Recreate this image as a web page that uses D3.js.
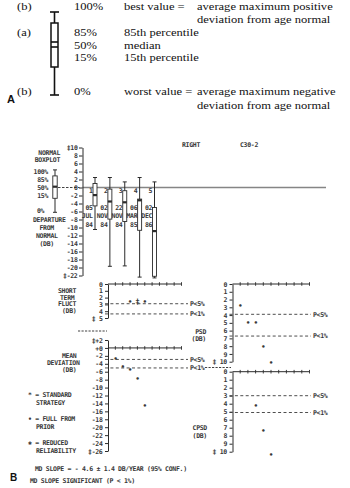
<!DOCTYPE html>
<html><head><meta charset="utf-8">
<script src="https://cdn.jsdelivr.net/npm/d3@7"></script>
<style>
html,body{margin:0;padding:0;background:#fff;}
svg{display:block;}
.m{font-family:"DejaVu Sans Mono","Liberation Mono",monospace;font-size:6.5px;font-weight:bold;letter-spacing:-0.3px;fill:#383838;}
.s{font-family:"Liberation Serif","DejaVu Serif",serif;font-size:11.2px;fill:#111;}
.big{font-family:"Liberation Sans","DejaVu Sans",sans-serif;font-size:11px;font-weight:bold;fill:#111;}
</style></head><body>
<svg id="c" width="350" height="488"></svg>
<script>
// ---------- DATA ----------
// Panel A (legend schematic)
const legendPct = [100, 85, 50, 15, 0];
const legendPctLabels = ["100%", "85%", "50%", "15%", "0%"];
const legendTags = ["(b)", "(a)", "", "", "(b)"];
const legendDesc = ["best value =", "85th percentile", "median", "15th percentile", "worst value ="];
const legendNoteTop = ["average maximum positive", "deviation from age normal"];
const legendNoteBottom = ["average maximum negative", "deviation from age normal"];

// Panel B: boxplots of departure from normal (dB)
const tests = ["1", "2", "3", "4", "5"];
const testDay = ["05", "02", "22", "06", "02"];
const testMonth = ["JUL", "NOV", "NOV", "MAR", "DEC"];
const testYear = ["84", "84", "84", "85", "86"];
const boxMax = [2.5, 2.5, 1.4, 2.5, 1.4];
const boxQ85 = [1.0, -0.4, -0.8, -2.9, -5.0];
const boxMed = [-1.9, -3.5, -3.7, -3.2, -10.9];
const boxQ15 = [-4.6, -7.9, -8.5, -10.7, -22.2];
const boxMin = [-10.5, -19.7, -19.6, -22.4, -22.6];
const normalBox = { max: 4.4, q85: 2.9, med: 0.2, q15: -2.7, min: -6.2 };
const normalLabels = ["100%", "85%", "50%", "15%"];
const devTicks = [10, 8, 6, 4, 2, 0, -2, -4, -6, -8, -10, -12, -14, -16, -18, -20, -22];

// Trend panels (value per test; null = not measured)
const stfValues = [null, null, 2.5, 2.5, 2.6];
const stfSymbols = ["", "", "•", "‡", "•"];
const stfLimits = [2.9, 4.4];
const stfTicks = [0, 1, 2, 3, 4, 5];
const mdValues = [-2.6, -4.6, -5.35, -7.7, -14.45];
const mdSymbols = ["•", "•", "•", "•", "•"];
const mdLimits = [-2.9, -5.05];
const mdTicks = [2, 0, -2, -4, -6, -8, -10, -12, -14, -16, -18, -20, -22, -24, -26];
const psdValues = [2.8, 4.9, 4.9, 8.1, 10.1];
const psdSymbols = ["•", "•", "•", "•", "•"];
const psdLimits = [3.9, 6.7];
const cpsdValues = [null, null, 4.2, 7.4, 10.3];
const cpsdSymbols = ["", "", "•", "•", "•"];
const cpsdLimits = [3.0, 5.1];
const tenTicks = [0, 1, 2, 3, 4, 5, 6, 7, 8, 9, 10];
const limitLabels = ["P<5%", "P<1%"];

// ---------- DRAW ----------
const svg = d3.select("#c");
const ink = "#2b2b2b";

function mono(g, x, y, s, anchor) {
  return g.append("text").attr("class", "m").attr("x", x).attr("y", y)
    .attr("dy", "0.36em").attr("text-anchor", anchor || "start").text(s);
}
function ln(g, x1, y1, x2, y2, st) {
  const l = g.append("line").attr("x1", x1).attr("y1", y1).attr("x2", x2).attr("y2", y2);
  Object.entries(st).forEach(([k, v]) => l.attr(k, v));
  return l;
}
// serif text, widened a little to the reference's Palatino-like width
function serif(g, x, y, s) {
  const t = g.append("text").attr("class", "s").attr("x", x).attr("y", y).text(s);
  const w = t.node().getComputedTextLength();
  t.attr("textLength", w * 1.12).attr("lengthAdjust", "spacingAndGlyphs");
  return t;
}

// ===== Panel A =====
const gA = svg.append("g");
const yA = d3.scaleLinear().domain([0, 15, 50, 85, 100]).range([95, 67, 45, 23, 12]);
const cxA = 54.5;
const stA = { stroke: "#111", "stroke-width": 1.6, fill: "none" };
ln(gA, cxA, yA(100), cxA, yA(85), stA);
ln(gA, cxA, yA(15), cxA, yA(0), stA);
ln(gA, cxA - 4.5, yA(100), cxA + 4.5, yA(100), stA);
ln(gA, cxA - 4.5, yA(0), cxA + 4.5, yA(0), stA);
gA.append("rect").attr("x", cxA - 3.5).attr("width", 7)
  .attr("y", yA(85)).attr("height", yA(15) - yA(85))
  .attr("fill", "none").attr("stroke", "#111").attr("stroke-width", 1.5);
ln(gA, cxA - 3.5, yA(50) - 3, cxA + 3.5, yA(50) - 3, stA);
ln(gA, cxA - 3.5, yA(50) + 2, cxA + 3.5, yA(50) + 2, stA);

const rowY = [9.5, 36, 48.5, 61, 95];
legendPct.forEach((p, i) => {
  if (legendTags[i]) serif(gA, 17, rowY[i], legendTags[i]);
  serif(gA, 74, rowY[i], legendPctLabels[i]);
  serif(gA, 124, rowY[i], legendDesc[i]);
});
legendNoteTop.forEach((s, j) => serif(gA, 197, rowY[0] + j * 13, s));
legendNoteBottom.forEach((s, j) => serif(gA, 197, rowY[4] + j * 14, s));
gA.append("text").attr("class", "big").attr("x", 7).attr("y", 103).text("A");

// ===== Panel B: boxplots =====
const gB = svg.append("g");
const devY = d3.scaleLinear().domain([10, -22]).range([147.5, 275.5]);
const devAxisX = 82.5;
const boxX = d3.scalePoint().domain(tests).range([95, 154.5]);

gB.append("line").attr("x1", devAxisX).attr("x2", 326).attr("y1", devY(0)).attr("y2", devY(0))
  .attr("stroke", "#858585").attr("stroke-width", 1.4);

const axDev = gB.append("g").attr("transform", `translate(${devAxisX},0)`)
  .call(d3.axisLeft(devY).tickValues(devTicks).tickSize(3.5).tickSizeOuter(0).tickPadding(1.5)
    .tickFormat(d => d === 10 ? "‡10" : d === -22 ? "‡-22" : String(d)));
axDev.attr("font-family", null).attr("font-size", null);
axDev.selectAll("text").attr("class", "m");
axDev.selectAll("path,line").attr("stroke", ink);

const boxes = tests.map((t, i) => ({ t, max: boxMax[i], q85: boxQ85[i], med: boxMed[i], q15: boxQ15[i], min: boxMin[i] }));
function drawBox(g, cx, b, hw) {
  ln(g, cx, devY(b.max), cx, devY(b.min), { stroke: ink, "stroke-width": 1 });
  ln(g, cx - 2, devY(b.max), cx + 2, devY(b.max), { stroke: ink, "stroke-width": 1 });
  ln(g, cx - 2, devY(b.min), cx + 2, devY(b.min), { stroke: ink, "stroke-width": 1 });
  g.append("rect").attr("x", cx - hw).attr("width", hw * 2).attr("y", devY(b.q85))
    .attr("height", devY(b.q15) - devY(b.q85)).attr("fill", "#fff").attr("stroke", ink).attr("stroke-width", 0.9);
  g.append("rect").attr("x", cx - hw).attr("width", hw * 2).attr("y", devY(b.med) - 1.1)
    .attr("height", 2.2).attr("fill", ink);
}
boxes.forEach(b => {
  const g = gB.append("g");
  const cx = boxX(b.t);
  drawBox(g, cx, b, 2);
  mono(g, cx - 2.3, 191, b.t, "end");
});
tests.forEach((t, i) => {
  const x = boxX(t) - 2.3;
  mono(gB, x, 207.7, testDay[i], "end");
  mono(gB, x, 216, testMonth[i], "end");
  mono(gB, x, 224.3, testYear[i], "end");
});

// normal boxplot
const nx = 55;
drawBox(gB, nx, normalBox, 2.2);
gB.append("line").attr("x1", nx + 3).attr("x2", devAxisX - 3).attr("y1", devY(0)).attr("y2", devY(0))
  .attr("stroke", ink).attr("stroke-width", 0.9).attr("stroke-dasharray", "2.5,1.5");
mono(gB, 60, 152.7, "NORMAL", "end");
mono(gB, 60, 159.3, "BOXPLOT", "end");
normalLabels.forEach((s, i) => mono(gB, 48, 171.3 + i * 8, s, "end"));
mono(gB, 37, devY(normalBox.min) - 1.5, "0%");
mono(gB, 33, 219.3, "DEPARTURE");
mono(gB, 39.5, 227.5, "FROM");
mono(gB, 36, 235.7, "NORMAL");
mono(gB, 39.5, 243.5, "(DB)");
mono(gB, 182, 145, "RIGHT");
mono(gB, 240, 145, "C30-2");

// ===== Trend panels =====
function trend(opts) {
  const { xs, ys, ticks, fmt, values, symbols, limits, pLabelX, dashEnd } = opts;
  const g = svg.append("g");
  const x0 = xs(0);
  const ty = ys(0);
  ln(g, x0, ty, xs(10), ty, { stroke: ink, "stroke-width": 1 });
  xs.ticks(10).filter(k => k > 0).forEach(k => ln(g, xs(k), ty - 1.8, xs(k), ty + 1.8, { stroke: ink, "stroke-width": 0.9 }));
  const ax = g.append("g").attr("transform", `translate(${x0},0)`)
    .call(d3.axisLeft(ys).tickValues(ticks).tickSize(3).tickSizeOuter(0).tickPadding(2.5).tickFormat(fmt));
  ax.attr("font-family", null).attr("font-size", null);
  ax.selectAll("text").attr("class", "m");
  ax.selectAll("path,line").attr("stroke", ink);
  limits.forEach((v, i) => {
    g.append("line").attr("x1", x0 - 3).attr("x2", dashEnd).attr("y1", ys(v)).attr("y2", ys(v))
      .attr("stroke", "#3a3a3a").attr("stroke-width", 0.9).attr("stroke-dasharray", "3,2.4");
    mono(g, pLabelX, ys(v), limitLabels[i]);
  });
  values.forEach((v, i) => {
    if (v === null) return;
    g.append("text").attr("class", "m").attr("x", xs(i + 1)).attr("y", ys(v)).attr("dy", "0.36em")
      .attr("text-anchor", "middle").style("font-size", symbols[i] === "•" ? "7px" : "7.5px").text(symbols[i]);
  });
  return g;
}
const xsL = d3.scaleLinear().domain([0, 10]).range([108, 181.5]);
const xsR = d3.scaleLinear().domain([0, 10]).range([232.5, 309.5]);

const stfY = d3.scaleLinear().domain([0, 5]).range([284, 318]);
const mdY = d3.scaleLinear().domain([2, -26]).range([340, 451]);
const psdY = d3.scaleLinear().domain([0, 10]).range([284, 361.7]);
const cpsdY = d3.scaleLinear().domain([0, 10]).range([371.7, 451.7]);

trend({ xs: xsL, ys: stfY, ticks: stfTicks, fmt: d => d === 5 ? "‡ 5" : String(d),
  values: stfValues, symbols: stfSymbols, limits: stfLimits, pLabelX: 190, dashEnd: 188 });
trend({ xs: xsL, ys: mdY, ticks: mdTicks,
  fmt: d => d === 2 ? "‡+2" : d === 0 ? "+0" : d === -26 ? "‡-26" : String(d),
  values: mdValues, symbols: mdSymbols, limits: mdLimits, pLabelX: 190, dashEnd: 188 });
trend({ xs: xsR, ys: psdY, ticks: tenTicks, fmt: d => d === 10 ? "‡ 10" : String(d),
  values: psdValues, symbols: psdSymbols, limits: psdLimits, pLabelX: 313, dashEnd: 311 });
trend({ xs: xsR, ys: cpsdY, ticks: tenTicks, fmt: d => d === 10 ? "‡ 10" : String(d),
  values: cpsdValues, symbols: cpsdSymbols, limits: cpsdLimits, pLabelX: 313, dashEnd: 311 });

ln(svg, 78, 331, 107, 331, { stroke: ink, "stroke-width": 0.9, "stroke-dasharray": "2.2,1.3" });
ln(svg, 205, 367.5, 231, 367.5, { stroke: ink, "stroke-width": 0.9, "stroke-dasharray": "2.2,1.3" });

mono(svg, 58, 290.7, "SHORT");
mono(svg, 60, 297.3, "TERM");
mono(svg, 58, 304, "FLUCT");
mono(svg, 62, 311, "(DB)");
mono(svg, 62, 355.5, "MEAN");
mono(svg, 47, 362.5, "DEVIATION");
mono(svg, 62, 370, "(DB)");
mono(svg, 206, 331.7, "PSD", "end");
mono(svg, 206, 339, "(DB)", "end");
mono(svg, 207, 427.3, "CPSD", "end");
mono(svg, 207, 435.7, "(DB)", "end");

mono(svg, 28, 395, "* = STANDARD");
mono(svg, 36, 403, "STRATEGY");
mono(svg, 28, 419, "• = FULL FROM");
mono(svg, 36, 427, "PRIOR");
mono(svg, 28, 443, "✱ = REDUCED");
mono(svg, 36, 451, "RELIABILITY");

mono(svg, 35, 469, "MD SLOPE =   - 4.6 ± 1.4 DB/YEAR    (95% CONF.)");
mono(svg, 30, 481, "MD SLOPE SIGNIFICANT (P < 1%)");
svg.append("text").attr("class", "big").attr("x", 10).attr("y", 481).style("font-size", "10px").text("B");
</script></body></html>
